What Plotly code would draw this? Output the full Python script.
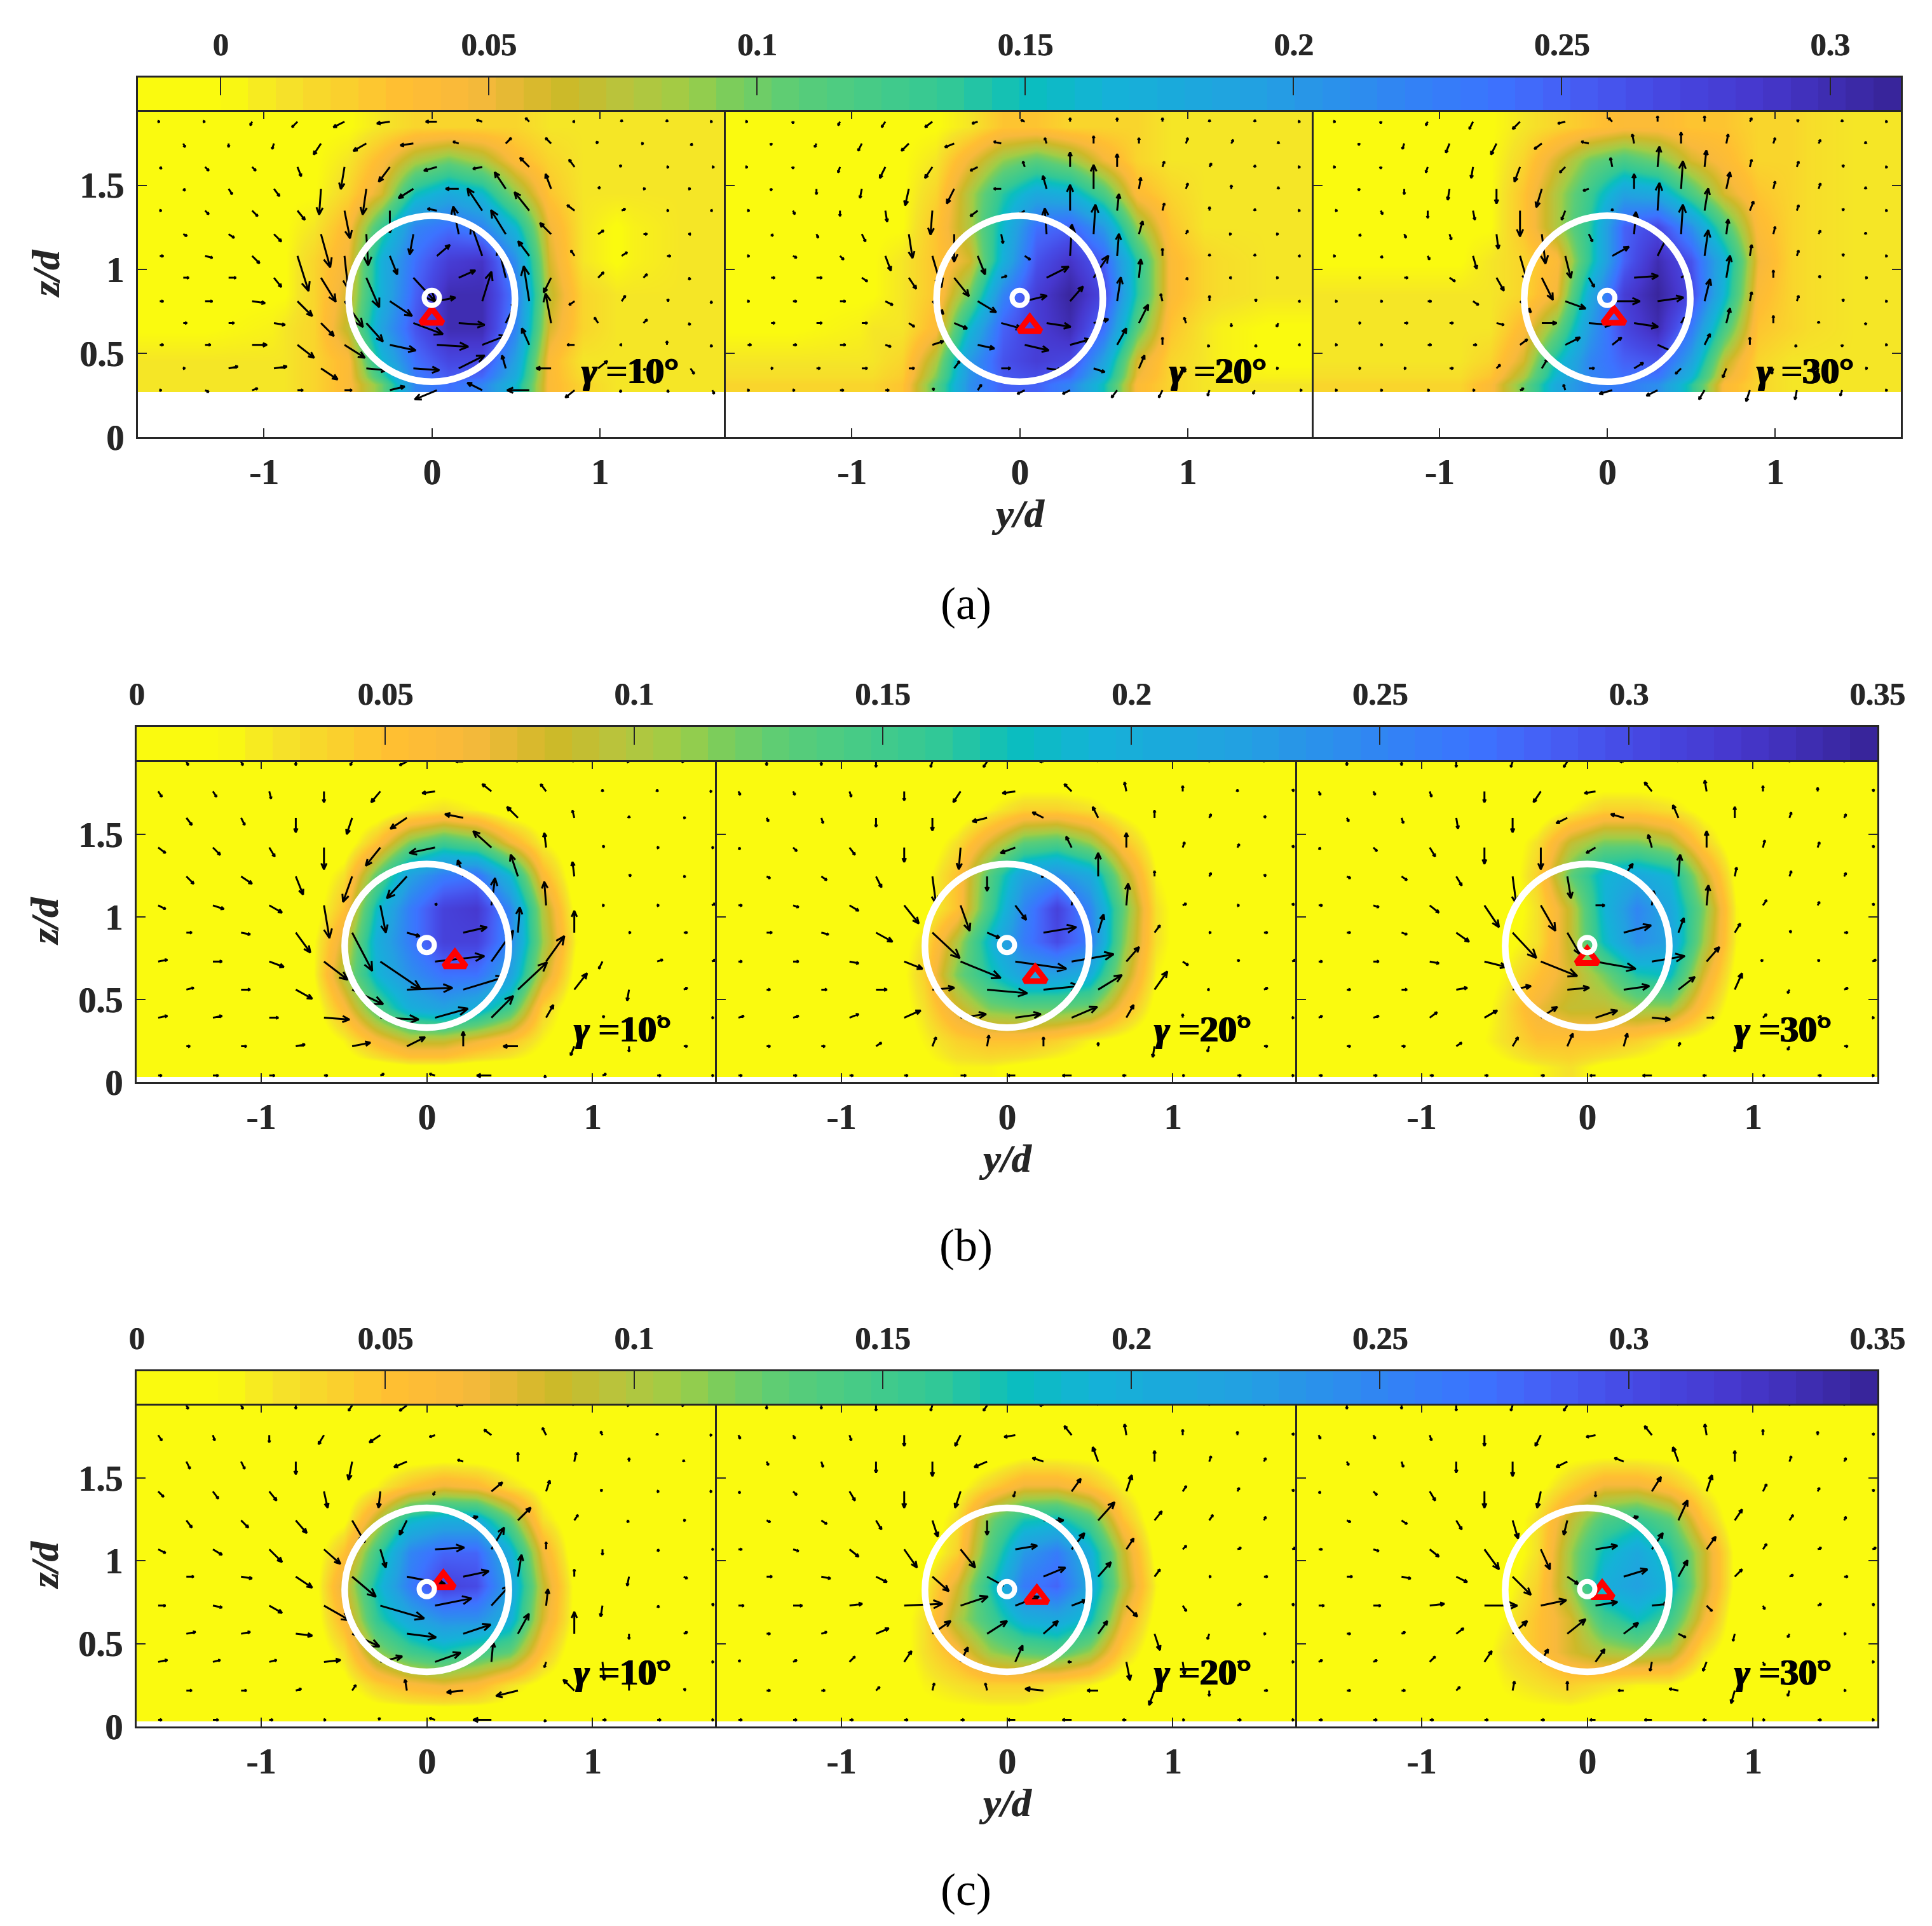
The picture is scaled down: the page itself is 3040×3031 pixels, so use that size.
import numpy as np
import plotly.graph_objects as go

W, H = 3040, 3031
# the page keeps its 8 px body margin, so the figure is that much smaller
PAGE = 8
PW, PH = W - 2 * PAGE, H - 2 * PAGE
DARK = "#262626"
SERIF = "Liberation Serif"

# Colour scale
cmap = [[0, "rgb(250,250,15)"], [0.05, "rgb(250,250,15)"], [0.08, "rgb(245,228,40)"], [0.15, "rgb(255,190,50)"],
        [0.19, "rgb(248,185,60)"], [0.24, "rgb(205,185,40)"], [0.275, "rgb(185,195,60)"], [0.31, "rgb(160,205,70)"],
        [0.335, "rgb(125,205,90)"], [0.373, "rgb(90,205,120)"], [0.46, "rgb(50,200,150)"], [0.505, "rgb(10,190,190)"],
        [0.55, "rgb(20,178,215)"], [0.636, "rgb(35,160,225)"], [0.724, "rgb(50,130,245)"], [0.77, "rgb(60,115,255)"],
        [0.812, "rgb(70,95,245)"], [0.855, "rgb(70,75,230)"], [0.92, "rgb(70,55,205)"], [1, "rgb(55,35,150)"]]

gamma_labels = ["10°", "20°", "30°"]
y_ticks = [-1, 0, 1]
y_labels = ["-1", "0", "1"]
z_ticks = [0, 0.5, 1, 1.5]
z_labels = ["0", "0.5", "1", "1.5"]
bar_ticks_a = [0, 0.05, 0.1, 0.15, 0.2, 0.25, 0.3]
bar_labels_a = ["0", "0.05", "0.1", "0.15", "0.2", "0.25", "0.3"]
bar_ticks_b = [0, 0.05, 0.1, 0.15, 0.2, 0.25, 0.3, 0.35]
bar_labels_b = ["0", "0.05", "0.1", "0.15", "0.2", "0.25", "0.3", "0.35"]
bar_range_a = [-0.0154, 0.3132]
bar_range_b = [0, 0.35]

# heat map cell edges, y/d and z/d
heat_y = [-1.75, -0.95, -0.8, -0.6, -0.4, -0.2, 0, 0.2, 0.4, 0.6, 0.8, 1.0, 1.2, 1.75]
heat_z_a = [0.27, 0.36, 0.55, 0.75, 0.95, 1.15, 1.35, 1.55, 1.75, 1.95]
heat_z_b = [0.03, 0.15, 0.35, 0.55, 0.75, 0.95, 1.15, 1.35, 1.55, 1.75, 1.95]

# heat values in 0.01, bottom row first
heat_a1 = [[1,1,2,4,10,22,24,22,16,4,2,1,1],[1,1,2,4,16,24,27,27,19,4,1,1,1],[0,1,2,7,19,26,30,30,22,6,2,1,1],
           [0,0,2,6,17,25,30,30,23,7,2,1,1],[0,0,2,5,17,24,28,29,21,6,1,0,1],[0,0,1,4,13,22,24,22,16,5,1,0,1],
           [0,0,0,2,6,15,18,16,9,3,1,1,1],[0,0,0,1,4,8,10,8,4,2,1,1,1],[0,0,0,0,1,2,2,2,2,1,1,1,1]]
heat_a2 = [[2,2,3,11,21,25,25,22,15,4,2,1,1],[1,1,2,8,20,26,28,27,19,6,2,1,0],[0,1,1,4,16,25,28,30,24,11,3,1,0],
           [0,0,1,3,10,22,28,31,27,14,4,2,1],[0,0,1,3,6,17,26,29,25,14,4,2,1],[0,0,0,3,8,16,24,25,20,9,3,1,1],
           [0,0,0,2,8,14,18,17,12,4,2,1,1],[0,0,0,1,5,9,11,9,5,2,1,1,1],[0,0,0,0,1,3,3,2,2,2,1,1,1]]
heat_a3 = [[2,2,4,10,18,22,23,21,14,4,2,1,1],[1,1,2,6,15,22,25,26,19,7,2,1,1],[1,1,1,4,10,20,27,30,23,12,3,2,1],
           [1,1,1,2,5,18,28,31,27,16,4,2,1],[0,0,1,2,4,14,25,30,26,17,5,2,1],[0,0,0,3,8,14,25,27,21,12,4,2,1],
           [0,0,0,3,8,13,19,18,12,6,3,2,1],[0,0,0,2,6,10,12,10,6,4,2,2,1],[0,0,0,1,2,3,4,4,3,3,2,2,1]]
heat_b1 = [[0,0,0,0,0,1,1,0,0,0,0,0,0],[0,0,0,2,6,9,9,7,5,2,0,0,0],[0,0,0,6,14,20,22,20,15,4,0,0,0],
           [0,0,1,10,19,24,27,27,22,9,1,0,0],[0,0,1,8,20,26,31,31,25,11,2,0,0],[0,0,0,5,18,26,31,32,25,10,1,0,0],
           [0,0,0,3,13,22,26,27,19,6,0,0,0],[0,0,0,0,5,12,15,13,7,2,0,0,0],[0,0,0,0,0,2,3,2,0,0,0,0,0],
           [0,0,0,0,0,0,0,0,0,0,0,0,0]]
heat_b2 = [[0,0,0,1,2,2,1,0,0,0,0,0,0],[0,0,0,2,4,5,5,4,2,1,0,0,0],[0,0,0,3,8,12,13,13,12,6,1,0,0],
           [0,0,0,4,12,17,22,22,20,10,2,0,0],[0,0,0,3,10,19,26,30,26,12,3,0,0],[0,0,0,1,5,15,25,31,25,13,3,0,0],
           [0,0,0,1,5,14,22,24,21,10,2,0,0],[0,0,0,0,3,8,13,14,11,5,1,0,0],[0,0,0,0,0,2,4,4,3,1,0,0,0],
           [0,0,0,0,0,0,0,0,0,0,0,0,0]]
heat_b3 = [[0,0,0,1,2,3,1,0,0,0,0,0,0],[0,0,1,3,5,5,5,4,2,1,0,0,0],[0,0,0,3,7,9,9,11,11,5,0,0,0],
           [0,0,0,2,5,8,12,17,18,8,1,0,0],[0,0,0,1,3,9,18,24,22,11,2,0,0],[0,0,0,0,3,9,19,25,21,12,2,0,0],
           [0,0,0,0,4,13,19,21,19,9,1,0,0],[0,0,0,0,3,9,12,12,10,4,0,0,0],[0,0,0,0,0,2,4,4,3,1,0,0,0],
           [0,0,0,0,0,0,0,0,0,0,0,0,0]]
heat_c1 = [[0,0,0,0,0,0,0,0,0,0,0,0,0],[0,0,0,1,4,6,7,6,3,1,0,0,0],[0,0,0,3,11,15,17,15,13,5,0,0,0],
           [0,0,0,6,16,21,24,24,20,8,1,0,0],[0,0,0,8,18,26,31,30,22,9,1,0,0],[0,0,0,5,15,25,28,28,20,7,0,0,0],
           [0,0,0,1,9,18,20,20,13,3,0,0,0],[0,0,0,0,2,5,7,6,3,1,0,0,0],[0,0,0,0,0,0,0,0,0,0,0,0,0],
           [0,0,0,0,0,0,0,0,0,0,0,0,0]]
heat_c2 = [[0,0,0,1,1,1,1,0,0,0,0,0,0],[0,0,0,2,3,4,4,3,2,0,0,0,0],[0,0,0,3,6,11,13,14,11,4,0,0,0],
           [0,0,0,3,10,15,20,21,18,7,1,0,0],[0,0,0,2,8,17,26,28,21,10,2,0,0],[0,0,0,0,4,14,23,26,20,9,1,0,0],
           [0,0,0,0,3,12,17,18,14,5,0,0,0],[0,0,0,0,1,4,7,7,5,2,0,0,0],[0,0,0,0,0,0,1,1,1,0,0,0,0],
           [0,0,0,0,0,0,0,0,0,0,0,0,0]]
heat_c3 = [[0,0,0,1,1,1,0,0,0,0,0,0,0],[0,0,0,2,3,4,3,2,2,0,0,0,0],[0,0,0,3,5,8,10,11,10,3,0,0,0],
           [0,0,0,2,5,8,15,18,15,7,0,0,0],[0,0,0,1,4,11,20,22,19,9,1,0,0],[0,0,0,0,3,11,18,21,17,9,1,0,0],
           [0,0,0,0,3,9,14,16,13,5,0,0,0],[0,0,0,0,1,4,7,7,5,2,0,0,0],[0,0,0,0,0,1,1,1,1,0,0,0,0],
           [0,0,0,0,0,0,0,0,0,0,0,0,0]]

# arrow tails: even rows use the first column list, odd rows the second
arrow_z_a = [0.28, 0.41, 0.55, 0.68, 0.81, 0.95, 1.08, 1.21, 1.35, 1.48, 1.61, 1.75, 1.88]
arrow_y_a0 = [-1.62, -1.35, -1.07, -0.80, -0.52, -0.25, 0.03, 0.30, 0.58, 0.85, 1.13, 1.40, 1.67]
arrow_y_a1 = [-1.48, -1.21, -0.94, -0.66, -0.39, -0.11, 0.16, 0.44, 0.71, 0.99, 1.26, 1.54]
arrow_z_b = [0.04, 0.217, 0.39, 0.56, 0.73, 0.905, 1.07, 1.245, 1.42, 1.6, 1.76, 1.94]
arrow_y_b0 = [-1.62, -1.29, -0.95, -0.62, -0.28, 0.05, 0.39, 0.72, 1.06, 1.39, 1.72]
arrow_y_b1 = [-1.45, -1.12, -0.79, -0.45, -0.12, 0.22, 0.55, 0.89, 1.22, 1.55]

# arrow components in 0.01 y/d, bottom row first
u_a1 = [[1,2,3,3,4,8,-12,-8,-12,-5,-1,1,1],[1,5,7,9,11,14,14,-2,-8,5,1,2],[2,3,8,9,11,14,17,13,-4,-4,-1,0,-1],
        [2,3,6,7,9,16,14,6,-3,-2,2,-1],[2,4,7,8,10,12,10,5,-3,-3,2,1,-1],[3,4,4,8,7,12,9,-4,-4,3,2,-1],
        [2,4,4,6,2,4,7,-6,-6,-2,3,2,-1],[2,3,4,5,1,-2,-3,-8,-6,3,2,-1],[1,2,3,4,3,0,-5,-8,-8,-4,2,1,-1],
        [1,2,3,-1,-2,-8,-7,-6,-3,1,1,0],[1,2,2,2,-2,-6,-7,-5,-5,-3,-1,1,1],[1,0,-1,-4,-7,-7,-3,3,-3,-1,0,1],
        [0,0,-1,-3,-6,-7,-6,-3,-2,-1,0,0,0]]
v_a1 = [[0,-1,1,0,0,2,-5,4,0,-4,-1,-1,-2],[0,1,1,-6,-1,-1,7,7,0,4,-1,-3],[0,0,0,-7,-7,-3,-1,5,9,0,0,2,-1],
        [0,0,-1,-7,-10,-6,-1,12,16,3,2,-1],[0,0,-1,-8,-14,-8,2,16,19,-2,3,1,-1],[0,0,-5,-13,-16,-13,4,17,-8,3,2,-1],
        [0,-1,-4,-19,-18,-10,6,17,8,3,2,0],[-1,-2,-4,-18,-17,-11,15,13,6,2,0,0],[0,-2,-3,-5,-15,-12,1,12,10,3,1,0,0],
        [-1,-3,-4,-14,-14,-5,0,9,8,1,0,0],[-1,-2,-2,-5,-12,-8,-2,-1,5,4,1,0,0],[-2,-2,-3,-6,-4,-1,1,3,3,1,0,-1],
        [0,0,-2,-3,-3,-1,0,1,2,0,1,1,0]]
u_a2 = [[1,1,2,2,1,2,-4,-4,-3,-2,-1,-1,1],[1,2,3,3,3,5,8,6,3,-1,-1,0],[2,2,3,3,6,9,13,11,5,0,-1,1,-1],
        [2,3,3,3,7,11,13,8,5,-1,0,-1],[1,2,3,4,6,10,12,7,2,-1,0,1,-1],[2,3,3,4,8,3,12,8,1,1,-1,0],
        [1,2,2,3,5,4,3,1,1,0,0,0,-1],[1,1,2,2,0,1,-1,1,2,1,0,0],[1,1,0,1,-1,-4,-3,0,1,1,0,0,0],
        [0,0,-1,-2,-4,-4,-2,0,1,1,0,0],[0,0,-1,-3,-4,-4,-1,0,0,1,1,0,0],[0,-1,-2,-4,-5,-4,-1,0,0,1,1,0],
        [0,0,-1,-2,-4,-3,-2,0,0,0,0,0,0]]
v_a2 = [[0,0,0,0,1,3,-2,-2,-4,-4,-3,-2,0],[0,0,0,0,4,0,-1,-2,7,-2,-2,0],[0,0,0,-1,2,-2,-3,3,9,4,-1,-1,0],
        [0,0,0,-2,-3,-3,-2,2,10,3,-2,-2],[0,0,0,-2,-7,-6,3,8,13,4,3,1,0],[0,0,-2,-6,-10,1,6,12,10,-1,0,0],
        [0,-1,-2,-8,-17,-10,-2,17,12,4,1,1,0],[-1,-2,-4,-13,-15,-5,14,16,7,2,0,0],[0,-2,-3,-6,-13,-3,-2,14,9,4,2,1,0],
        [-1,-3,-5,-9,-8,0,7,13,6,3,2,1],[0,-1,-3,-6,-6,-2,3,8,7,3,2,1,0],[-1,-2,-4,-4,-2,1,3,4,3,3,2,1],
        [0,-1,-2,-3,-3,-1,1,2,2,2,1,1,0]]
u_a3 = [[1,1,1,1,2,-1,-7,-6,-3,-2,-1,-1,0],[1,1,2,2,3,3,5,-3,-2,-1,-1,1],[1,1,2,2,4,8,5,9,3,0,-1,0,0],
        [1,2,2,4,8,12,13,2,2,0,0,0],[1,1,2,3,6,11,15,14,3,1,1,1,0],[1,2,3,4,6,3,13,3,2,0,1,1],
        [0,1,1,2,4,3,9,5,2,1,1,1,0],[1,1,1,1,2,2,1,1,1,1,1,0],[1,1,0,1,0,-2,0,1,2,2,1,1,0],
        [0,0,-1,0,-3,-3,0,1,2,1,1,0],[0,0,-1,-1,-3,-3,-1,1,1,1,1,1,0],[0,-1,-2,-3,-4,-4,-1,0,1,1,1,0],
        [0,0,-1,-2,-4,-4,-2,0,0,1,1,0,0]]
v_a3 = [[0,0,0,0,1,3,-2,-3,-5,-6,-5,-3,0],[0,0,0,2,5,0,3,-3,-5,-3,-2,0],[0,0,0,0,3,4,4,-4,6,4,-1,-1,0],
        [0,0,0,-1,0,-1,-2,3,8,4,1,-1],[0,0,0,-2,-6,-4,0,2,12,5,3,1,0],[0,0,-2,-7,-12,-5,1,2,12,4,1,0],
        [0,-1,-2,-7,-14,-12,5,10,14,6,3,1,0],[-1,-2,-3,-8,-16,-4,12,16,8,4,2,1],[0,-2,-4,-5,-14,-5,1,15,12,5,3,1,0],
        [-1,-3,-6,-8,-10,-1,8,15,9,4,3,1],[0,-1,-3,-6,-8,-3,5,11,9,4,3,1,0],[-1,-3,-5,-6,-3,1,5,6,5,3,2,1],
        [0,-1,-2,-4,-4,-1,2,3,3,2,1,1,0]]
u_b1 = [[2,3,3,2,2,-3,-8,-1,2,2,1],[2,3,5,10,10,0,-8,-2,0,2],[5,5,5,14,21,18,12,4,1,2,1],
        [4,5,9,17,25,23,16,7,-1,2],[5,5,8,13,22,27,12,10,-2,3,2],[3,5,8,11,7,13,1,0,1,2],
        [4,6,7,3,3,1,2,-1,1,1,2],[4,6,4,-5,-11,-3,-4,-1,1,1],[4,4,3,0,-8,-14,-10,-1,1,1,1],
        [3,2,0,-3,-9,-10,-6,-1,0,1],[2,2,1,0,-5,-7,-5,-3,0,0,0],[1,1,0,-1,-4,-4,-3,-1,0,0]]
v_b1 = [[0,0,0,0,1,1,0,-1,1,0,0],[0,0,1,2,5,8,0,-5,-3,0],[1,1,0,-1,-1,5,12,7,1,1,0],
        [1,0,-5,-8,1,7,15,9,-6,1],[1,0,-3,-10,-15,3,17,14,-4,1,1],[0,-1,-11,-21,-2,3,14,12,0,0],
        [-2,-2,-4,-18,-15,1,15,13,0,0,1],[-4,-4,-10,-14,-12,9,12,8,1,0],[-3,-4,-5,-12,-10,-3,9,8,1,0,0],
        [-4,-4,-8,-9,-6,2,6,4,1,0],[-3,-3,-4,-6,-6,-1,4,4,1,1,0],[-2,-2,-2,-2,-2,0,1,1,0,0]]
u_b2 = [[2,2,2,2,3,-4,-5,-2,1,2,1],[2,2,3,2,1,0,0,-1,-1,2],[3,3,5,9,14,14,14,4,0,2,1],
        [2,3,6,12,22,20,13,7,-1,2],[2,3,5,10,22,28,23,7,3,1,2],[3,4,9,15,7,18,3,3,1,2],
        [2,3,5,8,5,6,1,1,2,1,1],[2,3,3,2,0,0,0,0,1,1],[1,2,3,0,-1,-8,-3,0,1,1,1],
        [1,1,0,0,-8,-6,-3,0,1,1],[1,1,1,0,-4,-7,-4,-1,0,0,1],[0,0,0,-1,-2,-2,-2,0,0,0]]
v_b2 = [[0,0,0,0,0,0,0,0,0,0,0],[0,0,2,5,6,5,2,-6,-3,0],[1,1,2,4,2,2,6,7,2,1,0],
        [0,0,0,1,-2,2,8,10,0,1],[0,0,-1,-4,-9,-4,4,8,-2,1,1],[0,-1,-5,-14,-3,3,10,4,0,0],
        [0,-1,-3,-10,-14,-8,7,12,1,0,1],[-1,-2,-6,-15,-8,0,13,3,2,1],[-1,-2,-4,-8,-12,-3,6,8,3,2,1],
        [-2,-3,-5,-7,-2,3,6,4,2,1],[-2,-2,-3,-5,-6,-1,4,5,3,1,1],[-2,-2,-3,-3,-3,0,2,2,1,1]]
u_b3 = [[2,2,2,2,2,-3,-5,-2,1,2,1],[2,2,3,3,3,2,1,0,-1,2],[2,3,4,7,9,12,10,4,2,2,1],
        [2,3,6,10,12,14,9,4,-1,2],[2,3,5,12,20,22,18,7,-1,1,2],[2,3,7,13,7,15,3,3,1,2],
        [2,3,5,8,8,5,1,1,2,1,1],[2,3,3,2,2,5,1,1,1,1],[1,2,3,0,0,-5,-2,0,1,1,1],
        [1,1,1,0,-6,-7,-3,0,1,1],[1,1,1,0,-4,-6,-4,-1,0,0,1],[0,0,0,-1,-2,-2,-2,0,0,0]]
v_b3 = [[0,0,0,0,0,0,0,0,0,0,0],[0,0,2,5,7,7,2,-3,-2,0],[1,1,3,4,6,4,-1,0,2,1,0],
        [0,0,1,2,1,2,7,9,-2,1],[0,0,-1,-3,-8,-4,3,8,1,1,1],[0,-1,-5,-14,-12,4,8,5,1,0],
        [0,-1,-4,-12,-14,0,8,11,3,2,1],[-1,-2,-5,-15,-12,7,12,5,3,2],[-1,-2,-5,-9,-12,-3,7,9,4,3,1],
        [-2,-3,-6,-8,-3,2,7,6,3,2],[-2,-2,-3,-6,-6,-1,5,6,3,2,1],[-2,-2,-3,-3,-3,0,2,2,1,1]]
u_c1 = [[2,3,2,1,-1,-3,-10,-1,2,2,1],[3,3,3,2,-1,-9,-12,-6,0,1],[5,4,4,9,12,14,1,-1,1,1,1],
        [5,5,9,15,16,15,6,0,0,2],[4,5,7,14,24,20,10,1,-1,1,1],[4,6,9,13,21,14,2,0,-1,2],
        [4,5,7,9,3,16,7,0,0,1,1],[3,4,6,7,-4,8,7,2,-1,1],[3,3,4,2,-1,-1,6,2,-1,1,0],
        [2,2,0,-2,-7,-3,0,1,0,0],[2,1,0,-3,-6,-3,-4,-2,-1,0,0],[1,1,0,-2,-4,-4,-3,-1,0,0]]
v_c1 = [[0,0,0,0,1,1,0,-1,0,0,0],[0,0,1,3,6,-1,-3,6,5,1],[1,1,1,1,3,5,11,-3,-10,-1,0],
        [1,1,-1,-7,-2,5,11,12,-3,1],[0,-1,-4,-8,-7,4,11,9,-6,-1,1],[0,-1,-6,-11,-4,3,12,4,-5,-1],
        [-2,-3,-7,-8,-10,1,12,4,-3,-1,0],[-4,-4,-7,-12,-8,2,7,3,-1,0],[-3,-4,-5,-9,-9,-2,5,6,1,0,0],
        [-4,-4,-7,-10,-3,1,5,5,2,1],[-3,-3,-4,-5,-4,-1,3,4,2,1,0],[-2,-2,-2,-3,-3,0,1,1,0,0]]
u_c2 = [[2,2,2,2,2,-4,-5,-2,1,2,1],[2,2,2,1,-1,-10,-6,-3,0,2],[1,2,3,4,4,4,-2,2,1,2,1],
        [2,3,7,10,11,8,5,3,-1,1],[3,5,7,21,15,13,8,6,2,2,1],[3,5,6,9,9,12,7,3,1,2],
        [2,3,5,7,8,12,7,4,2,2,2],[2,3,3,3,0,11,9,4,2,1],[1,2,3,0,-3,-1,5,3,2,1,1],
        [1,1,0,0,-7,-6,-3,0,1,1],[1,1,1,0,-3,-6,-4,-1,0,0,1],[0,0,0,-1,-2,-2,-2,0,0,0]]
v_c2 = [[0,0,0,0,0,0,0,0,0,0,0],[0,0,2,4,4,1,0,-8,-3,0],[1,1,3,6,8,9,0,-10,-7,0,0],
        [0,1,3,7,7,7,7,-9,-3,0],[0,0,1,1,5,5,3,-6,-3,1,1],[0,-1,-3,-8,-5,5,8,4,0,0],
        [0,-1,-4,-10,-10,2,9,6,2,1,1],[-1,-2,-5,-9,-8,0,10,5,3,2],[-1,-2,-5,-9,-9,-3,7,9,3,2,1],
        [-2,-3,-6,-8,-3,2,8,6,3,2],[-2,-2,-3,-6,-6,-1,5,6,3,2,1],[-2,-2,-3,-3,-3,0,2,2,1,1]]
u_c3 = [[2,2,2,2,2,-3,-4,-2,1,2,1],[2,2,2,1,0,-3,-5,-2,-1,1],[2,2,3,4,4,5,-1,-2,1,2,1],
        [2,2,4,8,10,8,4,-1,-1,1],[3,4,8,18,14,12,9,3,1,2,1],[3,5,6,10,6,13,5,4,2,2],
        [2,3,5,8,5,12,6,5,2,2,2],[2,3,3,3,-2,8,5,4,2,1],[1,2,3,0,-2,0,5,3,2,1,1],
        [1,1,0,0,-6,-5,-3,0,1,1],[1,1,1,0,-3,-5,-4,-1,0,0,1],[0,0,0,-1,-2,-2,-2,0,0,0]]
v_c3 = [[0,0,0,0,0,0,0,0,0,0,0],[0,0,2,5,5,0,1,-7,-3,0],[1,1,3,6,7,7,-5,-5,-2,0,0],
        [0,1,3,7,8,6,-2,-4,-2,0],[0,0,1,0,3,2,1,-3,-2,1,1],[0,-1,-3,-10,-4,4,9,4,1,0],
        [0,-1,-4,-11,-11,2,9,7,3,1,1],[-1,-2,-5,-10,-8,2,11,6,3,2],[-1,-2,-5,-9,-9,-3,8,9,4,2,1],
        [-2,-3,-6,-8,-3,2,8,6,3,2],[-2,-2,-3,-6,-6,-1,5,6,3,2,1],[-2,-2,-3,-3,-3,0,2,2,1,1]]

# white rings, red triangles
ring_z = 0.83
rotor_z = 0.825
rotor_r = 0.495
tri_y = [0.0, 0.06, 0.04, 0.17, 0.17, 0.0, 0.1, 0.18, 0.09]
tri_z = [0.71, 0.66, 0.71, 0.73, 0.64, 0.75, 0.87, 0.78, 0.81]
gamma_z = [0.395, 0.32, 0.33]

heats = [heat_a1, heat_a2, heat_a3, heat_b1, heat_b2, heat_b3, heat_c1, heat_c2, heat_c3]
us = [u_a1, u_a2, u_a3, u_b1, u_b2, u_b3, u_c1, u_c2, u_c3]
vs = [v_a1, v_a2, v_a3, v_b1, v_b2, v_b3, v_c1, v_c2, v_c3]

# pixel boxes of the three rows: panel edges, bar top, panel top, panel bottom
rows = [
    dict(edges=[217, 1142, 2067, 2991], bar=122, top=173, bottom=688, rng=bar_range_a, ticks=bar_ticks_a,
         labels=bar_labels_a, hz=heat_z_a, az=arrow_z_a, ay=(arrow_y_a0, arrow_y_a1), cap="(a)", cap_y=950),
    dict(edges=[215, 1128, 2041, 2954], bar=1144, top=1196, bottom=1703, rng=bar_range_b, ticks=bar_ticks_b,
         labels=bar_labels_b, hz=heat_z_b, az=arrow_z_b, ay=(arrow_y_b0, arrow_y_b1), cap="(b)", cap_y=1960),
    dict(edges=[215, 1128, 2041, 2954], bar=2158, top=2209, bottom=2717, rng=bar_range_b, ticks=bar_ticks_b,
         labels=bar_labels_b, hz=heat_z_b, az=arrow_z_b, ay=(arrow_y_b0, arrow_y_b1), cap="(c)", cap_y=2974),
]


def fx(p):
    return (p - PAGE) / PW


def fy(p):
    return 1 - (p - PAGE) / PH


def arrow_path(az, ay, u, v):
    px, pz = [], []
    for i, z in enumerate(az):
        for y, du, dv in zip(ay[i % 2], u[i], v[i]):
            # quiver scale
            du, dv = 1.1 * du / 100, 1.1 * dv / 100
            ang = np.arctan2(dv, du)
            h = max(min(0.3 * np.hypot(du, dv), 0.06), 0.014)
            ex, ez = y + du, z + dv
            px += [y, ex, ex - h * np.cos(ang - 0.42), ex, ex - h * np.cos(ang + 0.42), None]
            pz += [z, ez, ez - h * np.sin(ang - 0.42), ez, ez - h * np.sin(ang + 0.42), None]
    return px, pz


fig = go.Figure()
layout = {}
shapes = []
annotations = []
tick_font = dict(family=SERIF, size=56, color=DARK, weight="bold", shadow=f"1px 0 0 {DARK}")
title_font = dict(family=SERIF, size=62, color=DARK, weight="bold", shadow=f"1px 0 0 {DARK}")
line_style = dict(showline=True, linecolor=DARK, linewidth=2.5, showgrid=False, zeroline=False, automargin=False)

for r, row in enumerate(rows):
    for c in range(3):
        k = r * 3 + c
        n = k + 1
        x0, x1 = row["edges"][c], row["edges"][c + 1]
        fig.add_trace(go.Heatmap(x=heat_y, y=row["hz"], z=np.array(heats[k]) / 100, zmin=row["rng"][0], zmax=row["rng"][1],
                                 colorscale=cmap, zsmooth="best", showscale=False, hoverinfo="skip",
                                 xaxis=f"x{n}", yaxis=f"y{n}"))
        ax, az = arrow_path(row["az"], row["ay"], us[k], vs[k])
        fig.add_trace(go.Scatter(x=ax, y=az, mode="lines", line=dict(color="black", width=3), hoverinfo="skip",
                                 showlegend=False, xaxis=f"x{n}", yaxis=f"y{n}"))
        fig.add_trace(go.Scatter(x=[tri_y[k]], y=[tri_z[k]], mode="markers", hoverinfo="skip", showlegend=False,
                                 marker=dict(symbol="triangle-up-open", size=30, color="red", line=dict(color="red", width=9)),
                                 xaxis=f"x{n}", yaxis=f"y{n}"))
        fig.add_trace(go.Scatter(x=[0], y=[ring_z], mode="markers", hoverinfo="skip", showlegend=False,
                                 marker=dict(symbol="circle-open", size=24, color="white", line=dict(color="white", width=8)),
                                 xaxis=f"x{n}", yaxis=f"y{n}"))
        shapes.append(dict(type="circle", xref=f"x{n}", yref=f"y{n}", x0=-rotor_r, x1=rotor_r, y0=rotor_z - rotor_r,
                           y1=rotor_z + rotor_r, line=dict(color="white", width=10.5)))
        annotations.append(dict(xref=f"x{n}", yref=f"y{n}", x=1.18, y=gamma_z[r], showarrow=False,
                                text=f"<b><i>γ</i> ={gamma_labels[c]}</b>",
                                font=dict(family=SERIF, size=58, color="black", shadow="1.5px 0 0 black, -1px 0 0 black")))
        layout[f"xaxis{n}"] = dict(domain=[fx(x0), fx(x1)], range=[-1.75, 1.75], anchor=f"y{n}", tickvals=y_ticks,
                                   ticktext=y_labels, ticks="inside", ticklen=14, tickwidth=2, tickcolor=DARK,
                                   mirror="ticks", tickfont=tick_font, ticklabelstandoff=4, **line_style)
        # the next panel's left axis closes the right side of this one
        layout[f"yaxis{n}"] = dict(domain=[fy(row["bottom"]), fy(row["top"])], range=[0, 1.95], anchor=f"x{n}",
                                   tickvals=z_ticks, ticktext=z_labels, ticks="inside", ticklen=14, tickwidth=2,
                                   tickcolor=DARK, mirror="ticks" if c == 2 else False, tickfont=tick_font,
                                   showticklabels=c == 0, ticklabelstandoff=8, **line_style)
        if c == 1:
            layout[f"xaxis{n}"]["title"] = dict(text="<i>y/d</i>", font=title_font, standoff=10)
        if c == 0:
            layout[f"yaxis{n}"]["title"] = dict(text="<i>z/d</i>", font=title_font, standoff=12)

    # colour bar strip on its own axes
    b = 10 + r
    lo, hi = row["rng"]
    bar_edges = np.linspace(lo, hi, 65)
    bar_levels = (bar_edges[:-1] + bar_edges[1:]) / 2
    fig.add_trace(go.Heatmap(x=bar_edges, y=[0, 1], z=[bar_levels], zmin=lo, zmax=hi, colorscale=cmap, showscale=False,
                             hoverinfo="skip", xaxis=f"x{b}", yaxis=f"y{b}"))
    layout[f"xaxis{b}"] = dict(domain=[fx(row["edges"][0]), fx(row["edges"][3])], range=[lo, hi], anchor=f"y{b}", side="top",
                               tickvals=row["ticks"], ticktext=row["labels"], ticks="inside", ticklen=28, tickwidth=2,
                               tickcolor=DARK,
                               tickfont=dict(family=SERIF, size=50, color=DARK, weight="bold", shadow=f"1px 0 0 {DARK}"),
                               ticklabelstandoff=12, mirror=True, **line_style)
    layout[f"yaxis{b}"] = dict(domain=[fy(row["top"]), fy(row["bar"])], range=[0, 1], anchor=f"x{b}", ticks="",
                               showticklabels=False, mirror=True, **line_style)
    annotations.append(dict(xref="paper", yref="paper", x=fx(1520), y=fy(row["cap_y"]), xanchor="center", yanchor="middle",
                            showarrow=False, text=row["cap"], font=dict(family=SERIF, size=72, color="black")))

fig.update_layout(width=PW, height=PH, margin=dict(l=0, r=0, t=0, b=0), autosize=False, paper_bgcolor="white",
                  plot_bgcolor="white", showlegend=False, shapes=shapes, annotations=annotations, **layout)
fig.write_html("out.html")
